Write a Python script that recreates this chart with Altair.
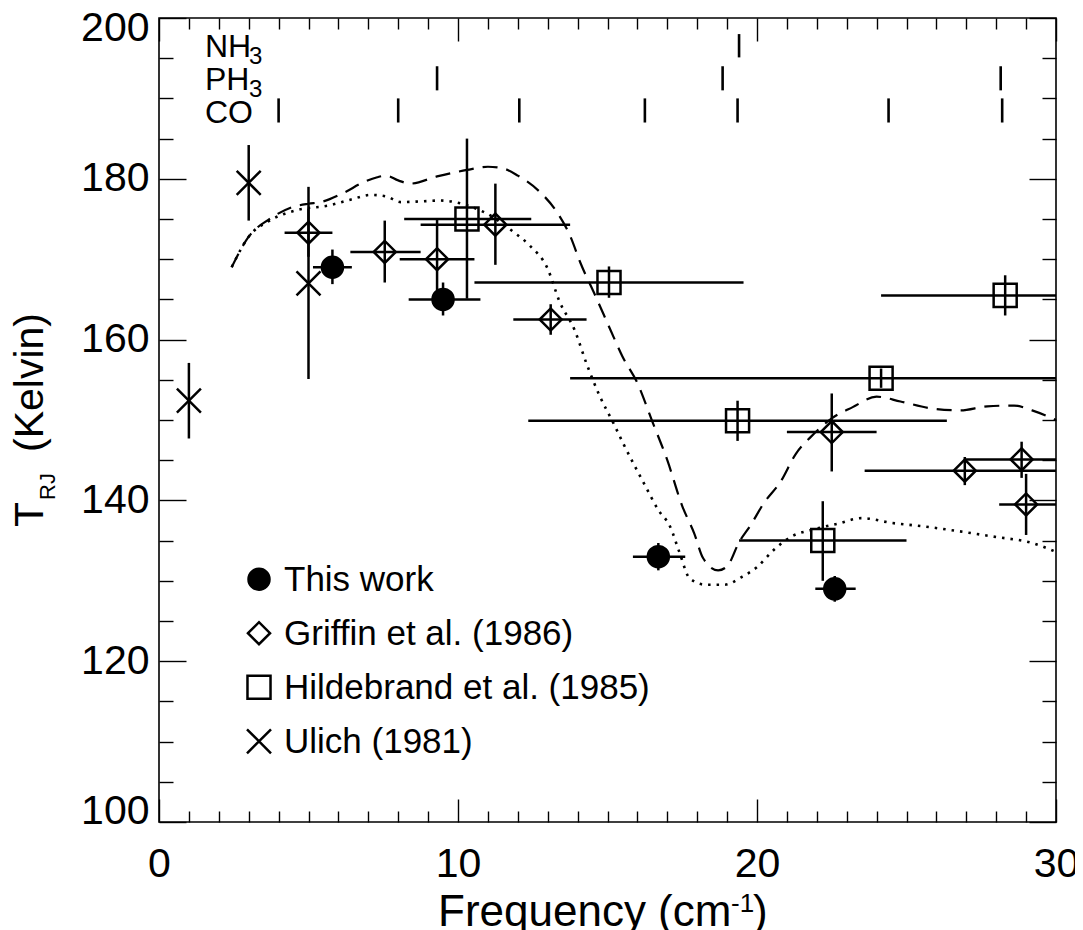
import altair as alt
import pandas as pd

FONT = "Liberation Sans"

# ---------------- model curves ----------------
dash_x = [2.43, 3.0, 3.7, 4.4, 5.0, 5.4, 6.2, 6.8, 7.3, 7.6, 8.0, 8.4, 9.3, 10.3, 11.0, 11.5,
          12.0, 12.7, 13.3, 13.75, 14.1, 14.6, 15.1, 15.5, 16.0, 16.5, 17.0, 17.5, 17.9, 18.2,
          18.7, 19.0, 19.4, 19.8, 20.2, 20.8, 21.3, 21.8, 22.5, 23.2, 24.0, 24.8, 25.9, 26.8,
          27.7, 28.6, 29.2, 30.0]
dash_y = [169.0, 172.8, 175.0, 176.4, 176.9, 177.1, 178.3, 179.5, 180.2, 180.4, 179.8, 179.4,
          180.3, 181.1, 181.5, 181.3, 180.4, 178.5, 175.9, 172.9, 169.5, 165.4, 161.2, 157.9,
          154.6, 149.8, 145.0, 139.3, 135.9, 132.8, 131.3, 131.8, 134.8, 137.0, 139.5, 142.4,
          145.8, 147.9, 150.2, 151.6, 152.9, 152.3, 151.4, 151.2, 151.7, 151.8, 151.2, 150.0]

dot_x = [2.43, 3.0, 3.7, 4.6, 5.7, 6.4, 7.1, 7.6, 8.1, 8.8, 9.4, 10.3, 11.0, 11.85, 12.4, 13.0,
         13.4, 13.9, 14.3, 14.75, 15.2, 15.55, 16.25, 16.7, 17.1, 17.4, 17.75, 18.3, 18.9, 19.5,
         20.0, 20.55, 21.15, 21.9, 22.7, 23.5, 24.5, 25.5, 26.5, 27.9, 29.2, 30.0]
dot_y = [169.0, 172.8, 174.8, 176.1, 176.7, 177.4, 178.0, 177.8, 177.1, 177.2, 177.3, 176.7,
         175.6, 173.4, 171.7, 168.8, 164.7, 161.2, 157.0, 152.9, 149.6, 146.9, 141.9, 138.8,
         136.7, 133.6, 130.3, 129.5, 129.5, 130.5, 131.7, 133.8, 135.5, 136.4, 137.1, 137.8,
         137.2, 136.8, 136.3, 135.5, 134.7, 133.6]

# ---------------- measurements ----------------
series_names = ["This work", "Griffin et al. (1986)", "Hildebrand et al. (1985)", "Ulich (1981)"]

this_x = [5.8, 9.5, 16.7, 22.6]
this_y = [169.0, 165.0, 133.0, 129.0]
this_xlo = [5.15, 8.35, 15.85, 21.95]
this_xhi = [6.45, 10.75, 17.6, 23.3]
this_ylo = [166.9, 163.0, 131.3, 127.4]
this_yhi = [171.2, 167.1, 134.7, 130.6]

grif_x = [5.0, 7.55, 9.3, 11.25, 13.1, 22.5, 26.95, 28.85, 29.0]
grif_y = [173.3, 170.9, 170.0, 174.3, 162.5, 148.5, 143.7, 145.1, 139.5]
grif_xlo = [4.2, 6.4, 8.05, 8.75, 11.85, 21.0, 23.6, 26.95, 28.1]
grif_xhi = [5.8, 8.75, 10.55, 13.75, 14.3, 24.0, 30.3, 30.75, 30.3]
grif_ylo = [170.3, 167.1, 165.0, 169.3, 160.6, 143.6, 141.9, 142.8, 135.7]
grif_yhi = [176.3, 174.8, 175.0, 179.4, 164.4, 153.3, 145.4, 147.3, 143.3]

hild_x = [10.3, 15.05, 19.35, 24.15, 28.3, 22.2]
hild_y = [175.0, 167.1, 149.9, 155.2, 165.5, 135.0]
hild_xlo = [8.2, 10.55, 12.35, 13.75, 24.15, 19.4]
hild_xhi = [12.45, 19.55, 26.35, 34.55, 32.45, 25.0]
hild_ylo = [165.1, 165.2, 147.4, 154.0, 163.0, 130.0]
hild_yhi = [185.0, 169.1, 152.4, 156.4, 168.0, 139.9]

ulich_x = [1.0, 3.0, 5.0]
ulich_y = [152.4, 179.5, 167.0]
ulich_ylo = [147.7, 174.8, 155.1]
ulich_yhi = [157.1, 184.2, 179.0]

# ---------------- spectral line markers ----------------
mol_names = ["NH", "PH", "CO"]
mol_subs = ["3", "3", ""]
mol_lo = [195.1, 191.0, 187.0]
mol_hi = [198.0, 194.0, 190.0]
mol_lines = [[19.4],
             [9.3, 18.85, 28.15],
             [4.0, 8.0, 12.05, 16.25, 19.35, 24.4, 28.2]]

# ---------------- ticks ----------------
x_major = [0, 10, 20, 30]
x_minor = [1, 2, 3, 4, 5, 6, 7, 8, 9, 11, 12, 13, 14, 15, 16, 17, 18, 19,
           21, 22, 23, 24, 25, 26, 27, 28, 29]
y_major = [100, 120, 140, 160, 180, 200]
y_minor = [105, 110, 115, 125, 130, 135, 145, 150, 155, 165, 170, 175, 185, 190, 195]

# ---------------- tables ----------------
rows = []
def add(name, xs_, ys_, xlo, xhi, ylo, yhi):
    for i in range(len(xs_)):
        rows.append({"series": name, "x": xs_[i], "y": ys_[i],
                     "xlo": None if xlo is None else xlo[i],
                     "xhi": None if xhi is None else xhi[i],
                     "ylo": ylo[i], "yhi": yhi[i]})

add(series_names[0], this_x, this_y, this_xlo, this_xhi, this_ylo, this_yhi)
add(series_names[1], grif_x, grif_y, grif_xlo, grif_xhi, grif_ylo, grif_yhi)
add(series_names[2], hild_x, hild_y, hild_xlo, hild_xhi, hild_ylo, hild_yhi)
add(series_names[3], ulich_x, ulich_y, None, None, ulich_ylo, ulich_yhi)
pts = pd.DataFrame(rows)

curves = pd.concat([
    pd.DataFrame({"x": dash_x, "y": dash_y, "model": "dashed"}),
    pd.DataFrame({"x": dot_x, "y": dot_y, "model": "dotted"}),
])

mol_rows = []
for i, name in enumerate(mol_names):
    for f in mol_lines[i]:
        mol_rows.append({"mol": name, "f": f, "lo": mol_lo[i], "hi": mol_hi[i]})
mol_df = pd.DataFrame(mol_rows)
mol_lab = pd.DataFrame({"name": mol_names, "sub": mol_subs, "lo": mol_lo})

legend_df = pd.DataFrame({"series": series_names, "row": list(range(len(series_names)))})

xs = alt.Scale(domain=[0, 30], nice=False, zero=False)
ys = alt.Scale(domain=[100, 200], nice=False, zero=False)

XPATH = "M-1,-1L1,1M-1,1L1,-1"
shape_scale = alt.Scale(domain=series_names, range=["circle", "diamond", "square", XPATH])
fill_scale = alt.Scale(domain=series_names,
                       range=["black", "transparent", "transparent", "transparent"])

# ---------------- layers ----------------
dashed = alt.Chart(curves).transform_filter(alt.datum.model == "dashed").mark_line(
    color="black", strokeWidth=2.2, strokeDash=[15, 9], interpolate="monotone"
).encode(x=alt.X("x:Q", scale=xs, axis=None), y=alt.Y("y:Q", scale=ys, axis=None))

dotted = alt.Chart(curves).transform_filter(alt.datum.model == "dotted").mark_line(
    color="black", strokeWidth=2.6, strokeDash=[2.5, 6], interpolate="monotone"
).encode(x=alt.X("x:Q", scale=xs, axis=None), y=alt.Y("y:Q", scale=ys, axis=None))

hbars = alt.Chart(pts).transform_filter("isValid(datum.xlo)").mark_rule(
    color="black", strokeWidth=2.5, clip=True
).encode(x=alt.X("xlo:Q", scale=xs, axis=None), x2="xhi:Q",
         y=alt.Y("y:Q", scale=ys, axis=None))

vbars = alt.Chart(pts).mark_rule(color="black", strokeWidth=2.5, clip=True).encode(
    x=alt.X("x:Q", scale=xs, axis=None),
    y=alt.Y("ylo:Q", scale=ys, axis=None), y2="yhi:Q")

markers = alt.Chart(pts).mark_point(stroke="black", strokeWidth=2.5, opacity=1).encode(
    x=alt.X("x:Q", scale=xs, axis=None),
    y=alt.Y("y:Q", scale=ys, axis=None),
    shape=alt.Shape("series:N", scale=shape_scale, legend=None),
    fill=alt.Fill("series:N", scale=fill_scale, legend=None),
    size=alt.Size("series:N", scale=alt.Scale(domain=series_names,
                                              range=[441, 576, 529, 484]), legend=None),
)

# legend (symbols share the marker scales), rows stacked in the lower-left of the plot
leg_sym = alt.Chart(legend_df).transform_calculate(ly="130.2 - 6.72 * datum.row").mark_point(
    stroke="black", strokeWidth=2.5, opacity=1
).encode(
    x=alt.value(100),
    y=alt.Y("ly:Q", scale=ys, axis=None),
    shape=alt.Shape("series:N", scale=shape_scale, legend=None),
    fill=alt.Fill("series:N", scale=fill_scale, legend=None),
    size=alt.Size("series:N", scale=alt.Scale(domain=series_names,
                                              range=[620, 676, 600, 600]), legend=None),
)
leg_txt = alt.Chart(legend_df).transform_calculate(ly="130.2 - 6.72 * datum.row").mark_text(
    font=FONT, fontSize=35, align="left", baseline="middle", color="black", dy=1
).encode(x=alt.value(125), y=alt.Y("ly:Q", scale=ys, axis=None), text="series:N")

mol_ticks = alt.Chart(mol_df).mark_rule(color="black", strokeWidth=2.6).encode(
    x=alt.X("f:Q", scale=xs, axis=None),
    y=alt.Y("lo:Q", scale=ys, axis=None), y2="hi:Q")

mol_text = alt.Chart(mol_lab).mark_text(
    font=FONT, fontSize=32, align="left", baseline="alphabetic", color="black"
).encode(x=alt.value(46), y=alt.Y("lo:Q", scale=ys, axis=None), text="name:N")

mol_sub = alt.Chart(mol_lab).mark_text(
    font=FONT, fontSize=24, align="left", baseline="alphabetic", color="black", dy=7
).encode(x=alt.value(90), y=alt.Y("lo:Q", scale=ys, axis=None), text="sub:N")

one = alt.Data(values=[{"k": 1}])

def label(txt, x, y, size, angle=0, align="left"):
    kw = dict(text=txt, font=FONT, fontSize=size, align=align, baseline="alphabetic",
              color="black")
    if angle:
        kw["angle"] = angle
    return alt.Chart(one).mark_text(**kw).encode(x=alt.value(x), y=alt.value(y))

# axis titles with sub/superscripts
xt1 = label("Frequency (cm", 279, 908, 44)
xt2 = label("-1", 572, 894, 26)
xt3 = label(")", 594, 908, 44)
yt1 = label("T", -116, 509, 41, angle=270)
yt2 = label("RJ", -104, 482, 22, angle=270)
yt3 = label("(Kelvin)", -116, 434, 41, angle=270)

# ---------------- inward ticks on all four sides ----------------
def ax(orient, values, size, **kw):
    return alt.Axis(orient=orient, values=values, tickSize=size, offset=-size,
                    domain=False, grid=False, title=None, ticks=True,
                    tickColor="black", tickWidth=1.4, **kw)

lab = dict(labelFont=FONT, labelFontSize=41, labelColor="black")

def axis_layer(axx, axy):
    return alt.Chart(curves).mark_point(opacity=0).encode(
        x=alt.X("x:Q", scale=xs, axis=axx), y=alt.Y("y:Q", scale=ys, axis=axy))

a1 = axis_layer(ax("bottom", x_major, 23, labels=True, labelPadding=22, labelFlush=False, **lab),
                ax("left", y_major, 27, labels=True, labelPadding=10, labelFlush=True,
                   labelFlushOffset=10, **lab))
a2 = axis_layer(ax("bottom", x_minor, 11, labels=False), ax("left", y_minor, 14, labels=False))
a3 = axis_layer(ax("top", x_major, 23, labels=False), ax("right", y_major, 27, labels=False))
a4 = axis_layer(ax("top", x_minor, 11, labels=False), ax("right", y_minor, 14, labels=False))

chart = alt.layer(
    dashed, dotted, hbars, vbars, markers, leg_sym, leg_txt, mol_ticks, mol_text, mol_sub,
    xt1, xt2, xt3, yt1, yt2, yt3, a1, a2, a3, a4
).resolve_axis(x="independent", y="independent").properties(
    width=897, height=804,
    autosize=alt.AutoSizeParams(type="none"),
    padding={"left": 151, "top": 10, "right": 19, "bottom": 114},
    background="white",
).configure_view(stroke="black", strokeWidth=1.6)

chart.save("out.html", embed_options={"renderer": "svg", "actions": False})
